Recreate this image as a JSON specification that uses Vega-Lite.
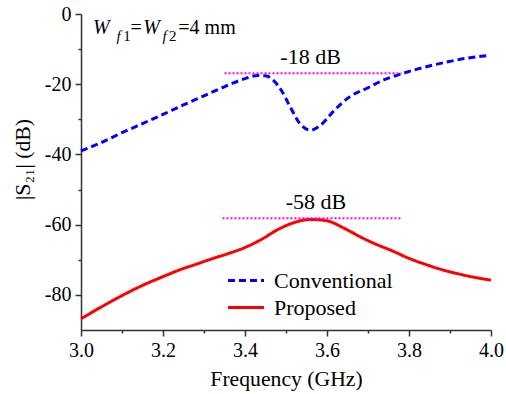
{
  "$schema": "https://vega.github.io/schema/vega-lite/v6.json",
  "width": 410,
  "height": 316,
  "autosize": {"type": "none"},
  "padding": {"left": 81, "top": 14, "right": 15, "bottom": 64},
  "background": "white",
  "config": {
    "view": {"stroke": null},
    "font": "Liberation Serif, Times New Roman, serif",
    "axis": {
      "labelColor": "black", "labelFlush": false,
      "titleFontWeight": "normal", "titleColor": "black",
      "domainColor": "#333", "domainWidth": 1.5, "tickColor": "#333", "tickWidth": 1.5, "grid": false
    },
    "legend": {"labelColor": "black"},
    "text": {"font": "Liberation Serif, Times New Roman, serif"}
  },
  "datasets": {
    "curves": [
      {"f": 3.00, "db": -39.0, "series": "Conventional"},
      {"f": 3.05, "db": -36.6, "series": "Conventional"},
      {"f": 3.10, "db": -33.8, "series": "Conventional"},
      {"f": 3.15, "db": -31.2, "series": "Conventional"},
      {"f": 3.20, "db": -28.6, "series": "Conventional"},
      {"f": 3.25, "db": -25.9, "series": "Conventional"},
      {"f": 3.30, "db": -23.3, "series": "Conventional"},
      {"f": 3.34, "db": -21.2, "series": "Conventional"},
      {"f": 3.37, "db": -19.7, "series": "Conventional"},
      {"f": 3.40, "db": -18.4, "series": "Conventional"},
      {"f": 3.43, "db": -17.5, "series": "Conventional"},
      {"f": 3.45, "db": -17.6, "series": "Conventional"},
      {"f": 3.47, "db": -19.0, "series": "Conventional"},
      {"f": 3.49, "db": -22.0, "series": "Conventional"},
      {"f": 3.51, "db": -26.4, "series": "Conventional"},
      {"f": 3.535, "db": -31.4, "series": "Conventional"},
      {"f": 3.56, "db": -33.1, "series": "Conventional"},
      {"f": 3.585, "db": -31.6, "series": "Conventional"},
      {"f": 3.615, "db": -27.8, "series": "Conventional"},
      {"f": 3.655, "db": -23.6, "series": "Conventional"},
      {"f": 3.70, "db": -21.0, "series": "Conventional"},
      {"f": 3.74, "db": -18.7, "series": "Conventional"},
      {"f": 3.78, "db": -17.1, "series": "Conventional"},
      {"f": 3.82, "db": -15.7, "series": "Conventional"},
      {"f": 3.86, "db": -14.5, "series": "Conventional"},
      {"f": 3.90, "db": -13.5, "series": "Conventional"},
      {"f": 3.94, "db": -12.6, "series": "Conventional"},
      {"f": 3.99, "db": -11.9, "series": "Conventional"},
      {"f": 3.00, "db": -86.8, "series": "Proposed"},
      {"f": 3.05, "db": -83.4, "series": "Proposed"},
      {"f": 3.10, "db": -80.2, "series": "Proposed"},
      {"f": 3.15, "db": -77.3, "series": "Proposed"},
      {"f": 3.20, "db": -74.8, "series": "Proposed"},
      {"f": 3.24, "db": -72.9, "series": "Proposed"},
      {"f": 3.28, "db": -71.3, "series": "Proposed"},
      {"f": 3.32, "db": -69.7, "series": "Proposed"},
      {"f": 3.36, "db": -68.2, "series": "Proposed"},
      {"f": 3.40, "db": -66.5, "series": "Proposed"},
      {"f": 3.44, "db": -64.2, "series": "Proposed"},
      {"f": 3.48, "db": -61.4, "series": "Proposed"},
      {"f": 3.52, "db": -59.4, "series": "Proposed"},
      {"f": 3.56, "db": -58.5, "series": "Proposed"},
      {"f": 3.60, "db": -58.9, "series": "Proposed"},
      {"f": 3.64, "db": -60.9, "series": "Proposed"},
      {"f": 3.68, "db": -63.4, "series": "Proposed"},
      {"f": 3.72, "db": -65.6, "series": "Proposed"},
      {"f": 3.76, "db": -67.5, "series": "Proposed"},
      {"f": 3.80, "db": -69.6, "series": "Proposed"},
      {"f": 3.84, "db": -71.3, "series": "Proposed"},
      {"f": 3.88, "db": -72.8, "series": "Proposed"},
      {"f": 3.92, "db": -74.0, "series": "Proposed"},
      {"f": 3.96, "db": -75.0, "series": "Proposed"},
      {"f": 4.00, "db": -75.8, "series": "Proposed"}
    ],
    "refs": [
      {"f1": 3.35, "f2": 3.782, "db": -16.9},
      {"f1": 3.345, "f2": 3.782, "db": -58.2}
    ],
    "refLabels": [
      {"f": 3.56, "db": -14.3, "label": "-18 dB"},
      {"f": 3.573, "db": -55.5, "label": "-58 dB"}
    ],
    "bigItalic": [
      {"f": 3.0293, "db": -5.6, "label": "W"},
      {"f": 3.152, "db": -5.6, "label": "W"}
    ],
    "bigRegular": [
      {"f": 3.121, "db": -5.6, "label": "="},
      {"f": 3.2373, "db": -5.6, "label": "=4 mm"}
    ],
    "subItalic": [
      {"f": 3.0866, "db": -7.6, "label": "f"},
      {"f": 3.1985, "db": -7.6, "label": "f"}
    ],
    "subRegular": [
      {"f": 3.1029, "db": -7.6, "label": "1"},
      {"f": 3.2146, "db": -7.6, "label": "2"}
    ]
  },
  "resolve": {"axis": {"x": "independent", "y": "independent"}},
  "layer": [
    {
      "data": {"name": "curves"},
      "mark": {"type": "line", "strokeWidth": 3, "strokeCap": "butt", "interpolate": "monotone"},
      "encoding": {
        "x": {"field": "f", "type": "quantitative",
          "scale": {"domain": [3.0, 4.0], "nice": false, "zero": false},
          "axis": {"values": [3.0, 3.2, 3.4, 3.6, 3.8, 4.0], "labelExpr": "format(datum.value, '.1f')", "title": "Frequency (GHz)", "tickSize": 6, "labelPadding": 4, "titlePadding": 8, "orient": "bottom",
            "labelFont": "Liberation Serif", "titleFont": "Liberation Serif", "labelFontSize": 20, "titleFontSize": 21.7}},
        "y": {"field": "db", "type": "quantitative",
          "scale": {"domain": [-90, 0], "nice": false, "zero": false},
          "axis": {"values": [0, -20, -40, -60, -80], "labelExpr": "'' + datum.value", "title": "|S₂₁| (dB)", "tickSize": 6, "labelPadding": 4, "titlePadding": 10, "titleY": 145, "orient": "left",
            "labelFont": "Liberation Serif", "titleFont": "Liberation Serif", "labelFontSize": 20, "titleFontSize": 21.7}},
        "color": {"field": "series", "type": "nominal",
          "scale": {"domain": ["Conventional", "Proposed"], "range": ["#0000ff", "#ff0000"]},
          "legend": {"title": null, "orient": "none", "legendX": 145, "legendY": 253, "symbolType": "stroke", "symbolStrokeWidth": 3, "symbolSize": 1300, "labelOffset": 8, "rowPadding": 0, "clipHeight": 27, "labelFont": "Liberation Serif", "labelFontSize": 22}},
        "strokeDash": {"field": "series", "type": "nominal",
          "scale": {"domain": ["Conventional", "Proposed"], "range": [[7, 4], [1, 0]]},
          "legend": {"title": null, "orient": "none", "legendX": 145, "legendY": 253, "symbolType": "stroke", "symbolStrokeWidth": 3, "symbolSize": 1300, "labelOffset": 8, "rowPadding": 0, "clipHeight": 27, "labelFont": "Liberation Serif", "labelFontSize": 22}}
      }
    },
    {
      "data": {"name": "refs"},
      "mark": {"type": "rule", "color": "#ff00ff", "strokeWidth": 2, "strokeDash": [2, 2]},
      "encoding": {
        "x": {"field": "f1", "type": "quantitative",
          "axis": {"values": [3.1, 3.3, 3.5, 3.7, 3.9], "labels": false, "domain": false, "tickSize": 3, "title": null, "orient": "bottom"}},
        "x2": {"field": "f2"},
        "y": {"field": "db", "type": "quantitative",
          "axis": {"values": [-10, -30, -50, -70], "labels": false, "domain": false, "tickSize": 3, "title": null, "orient": "left"}}
      }
    },
    {
      "data": {"name": "refLabels"},
      "mark": {"type": "text", "fontSize": 22, "color": "black", "align": "center", "baseline": "alphabetic"},
      "encoding": {
        "x": {"field": "f", "type": "quantitative", "axis": null},
        "y": {"field": "db", "type": "quantitative", "axis": null},
        "text": {"field": "label"}
      }
    },
    {
      "data": {"name": "bigItalic"},
      "mark": {"type": "text", "fontSize": 20, "fontStyle": "italic", "color": "black", "align": "left", "baseline": "alphabetic"},
      "encoding": {
        "x": {"field": "f", "type": "quantitative", "axis": null},
        "y": {"field": "db", "type": "quantitative", "axis": null},
        "text": {"field": "label"}
      }
    },
    {
      "data": {"name": "bigRegular"},
      "mark": {"type": "text", "fontSize": 20, "color": "black", "align": "left", "baseline": "alphabetic"},
      "encoding": {
        "x": {"field": "f", "type": "quantitative", "axis": null},
        "y": {"field": "db", "type": "quantitative", "axis": null},
        "text": {"field": "label"}
      }
    },
    {
      "data": {"name": "subItalic"},
      "mark": {"type": "text", "fontSize": 15, "fontStyle": "italic", "color": "black", "align": "left", "baseline": "alphabetic"},
      "encoding": {
        "x": {"field": "f", "type": "quantitative", "axis": null},
        "y": {"field": "db", "type": "quantitative", "axis": null},
        "text": {"field": "label"}
      }
    },
    {
      "data": {"name": "subRegular"},
      "mark": {"type": "text", "fontSize": 15, "color": "black", "align": "left", "baseline": "alphabetic"},
      "encoding": {
        "x": {"field": "f", "type": "quantitative", "axis": null},
        "y": {"field": "db", "type": "quantitative", "axis": null},
        "text": {"field": "label"}
      }
    }
  ]
}
